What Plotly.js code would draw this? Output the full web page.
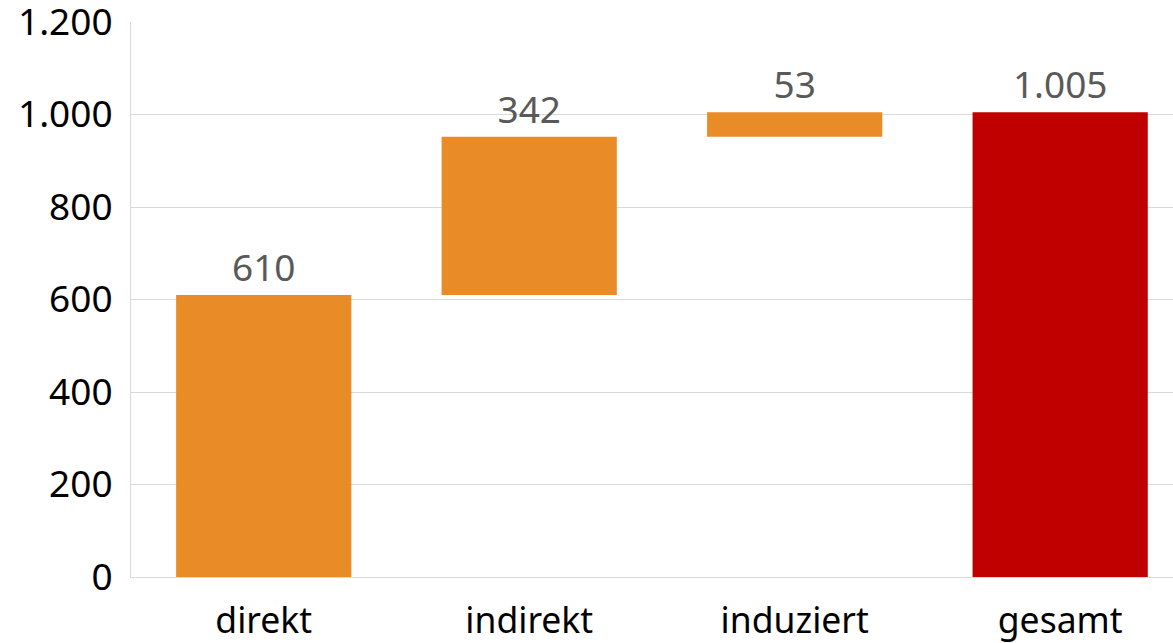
<!DOCTYPE html>
<html>
<head>
<meta charset="utf-8">
<script src="https://cdn.plot.ly/plotly-3.0.1.min.js"></script>
<style>html,body{margin:0;padding:0;overflow:hidden;background:#fff}</style>
</head>
<body>
<div id="chart" style="width:1173px;height:643px"></div>
<script>
const categories = ["direkt", "indirekt", "induziert", "gesamt"];
const values = [610, 342, 53, 1005];
const measures = ["relative", "relative", "relative", "total"];
const yTickVals = [0, 200, 400, 600, 800, 1000, 1200];
const yTickText = ["0", "200", "400", "600", "800", "1.000", "1.200"];

const fmt = v => v.toLocaleString("de-DE");
const labels = values.map(fmt);

const trace = {
  type: "waterfall",
  x: categories,
  y: values,
  measure: measures,
  text: labels,
  textposition: "outside",
  textinfo: "text",
  cliponaxis: false,
  textfont: {family: "Noto Sans, sans-serif", size: 37, color: "#595959"},
  increasing: {marker: {color: "#E98C27"}},
  decreasing: {marker: {color: "#E98C27"}},
  totals: {marker: {color: "#C00000"}},
  connector: {visible: false},
  width: 0.66,
  hoverinfo: "none"
};

const layout = {
  width: 1173,
  height: 643,
  margin: {l: 131, r: 0, t: 22, b: 66, pad: 0},
  paper_bgcolor: "#ffffff",
  plot_bgcolor: "#ffffff",
  showlegend: false,
  font: {family: "Noto Sans, sans-serif", size: 37, color: "#000000"},
  xaxis: {
    type: "category",
    range: [-0.5, 3.425],
    showgrid: false,
    showline: true,
    linecolor: "#d9d9d9",
    linewidth: 1,
    ticks: "",
    ticklabelstandoff: 12,
    ticklabeloverflow: "allow",
    tickfont: {family: "Noto Sans, sans-serif", size: 35.5, color: "#000000"},
    zeroline: false
  },
  yaxis: {
    range: [0, 1200],
    tickmode: "array",
    tickvals: yTickVals,
    ticktext: yTickText,
    showgrid: true,
    gridcolor: "#d9d9d9",
    gridwidth: 1,
    showline: true,
    linecolor: "#d9d9d9",
    linewidth: 1,
    zeroline: false,
    ticks: "",
    ticklabelstandoff: 10,
    ticklabeloverflow: "allow",
    tickfont: {family: "Noto Sans, sans-serif", size: 37, color: "#000000"}
  }
};

Plotly.newPlot("chart", [trace], layout, {displayModeBar: false, staticPlot: true});
</script>
</body>
</html>
